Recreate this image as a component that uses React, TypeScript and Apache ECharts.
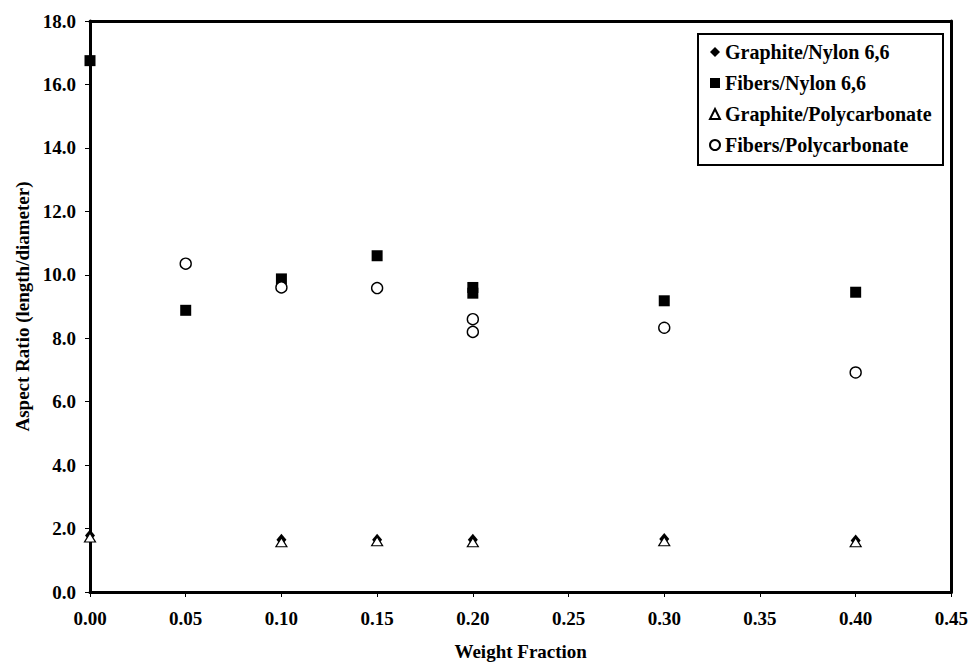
import React, { useEffect, useRef } from "react";
import * as echarts from "echarts";

const graphiteNylon: [number, number][] = [
  [0.0, 1.78], [0.1, 1.65], [0.15, 1.65], [0.2, 1.65], [0.3, 1.67], [0.4, 1.62],
];
const fibersNylon: [number, number][] = [
  [0.0, 16.75], [0.05, 8.88], [0.1, 9.87], [0.15, 10.6], [0.2, 9.6], [0.2, 9.42], [0.3, 9.18], [0.4, 9.45],
];
const graphitePC: [number, number][] = [
  [0.0, 1.72], [0.1, 1.57], [0.15, 1.6], [0.2, 1.57], [0.3, 1.6], [0.4, 1.57],
];
const fibersPC: [number, number][] = [
  [0.05, 10.35], [0.1, 9.6], [0.15, 9.58], [0.2, 8.6], [0.2, 8.2], [0.3, 8.33], [0.4, 6.92],
];
const legendNames = ["Graphite/Nylon 6,6", "Fibers/Nylon 6,6", "Graphite/Polycarbonate", "Fibers/Polycarbonate"];

const FONT = "Liberation Serif";

export default function App() {
  const ref = useRef<HTMLDivElement>(null);
  useEffect(() => {
    if (!ref.current) return;
    const chart = echarts.init(ref.current, undefined, { renderer: "svg" });
    const textStyle = { fontFamily: FONT, fontWeight: "bold" as const, color: "#000", fontSize: 19 };
    const frameAxis = {
      type: "value" as const,
      axisLine: { show: true, onZero: false, lineStyle: { color: "#000", width: 3 } },
      axisTick: { show: false },
      axisLabel: { show: false },
      splitLine: { show: false },
    };
    chart.setOption({
      animation: false,
      backgroundColor: "#fff",
      textStyle: { fontFamily: FONT },
      grid: {
        left: 90, right: 19, top: 21, bottom: 73,
        show: false,
      },
      graphic: [
        {
          type: "rect",
          left: 697, top: 33,
          shape: { width: 245, height: 131 },
          style: { fill: "#fff", stroke: "#000", lineWidth: 2 },
          z: 0,
        },
      ],
      legend: {
        orient: "vertical",
        left: 698, top: 33,
        padding: [9, 8, 8, 11],
        itemGap: 11,
        itemWidth: 10, itemHeight: 10,
        itemStyle: { opacity: 1 },
        textStyle: { ...textStyle, fontSize: 20, padding: [0, 0, 0, 0] },
        data: legendNames,
        z: 10,
      },
      xAxis: [
        {
          type: "value",
          min: 0, max: 0.45, interval: 0.05,
          name: "Weight Fraction",
          nameLocation: "middle",
          nameGap: 50,
          nameTextStyle: textStyle,
          axisLine: { show: true, onZero: false, lineStyle: { color: "#000", width: 3 } },
          axisTick: { show: true, inside: false, length: 5, lineStyle: { color: "#000", width: 1 } },
          axisLabel: { ...textStyle, margin: 17, formatter: (v: number) => v.toFixed(2) },
          splitLine: { show: false },
        },
        { ...frameAxis, position: "top", min: 0, max: 0.45 },
      ],
      yAxis: [
        {
          type: "value",
          min: 0, max: 18, interval: 2,
          name: "Aspect Ratio (length/diameter)",
          nameLocation: "middle",
          nameGap: 50,
          nameTextStyle: textStyle,
          axisLine: { show: true, onZero: false, lineStyle: { color: "#000", width: 3 } },
          axisTick: { show: true, inside: false, length: 5, lineStyle: { color: "#000", width: 1 } },
          axisLabel: { ...textStyle, margin: 14, formatter: (v: number) => v.toFixed(1) },
          splitLine: { show: false },
        },
        { ...frameAxis, position: "right", min: 0, max: 18 },
      ],
      series: [
        {
          name: legendNames[1], type: "scatter", data: fibersNylon,
          symbol: "rect", symbolSize: 11,
          itemStyle: { color: "#000", opacity: 1 },
        },
        {
          name: legendNames[3], type: "scatter", data: fibersPC,
          symbol: "circle", symbolSize: 11,
          itemStyle: { color: "#fff", borderColor: "#000", borderWidth: 1.4, opacity: 1 },
        },
        {
          name: legendNames[0], type: "scatter", data: graphiteNylon,
          symbol: "diamond", symbolSize: [10, 12],
          itemStyle: { color: "#000", opacity: 1 },
        },
        {
          name: legendNames[2], type: "scatter", data: graphitePC,
          symbol: "triangle", symbolSize: [11, 9],
          itemStyle: { color: "#fff", borderColor: "#000", borderWidth: 1.2, opacity: 1 },
        },
      ],
    });
    return () => chart.dispose();
  }, []);
  return <div ref={ref} style={{ width: 971, height: 666, position: "absolute", left: 0, top: 0 }} />;
}
